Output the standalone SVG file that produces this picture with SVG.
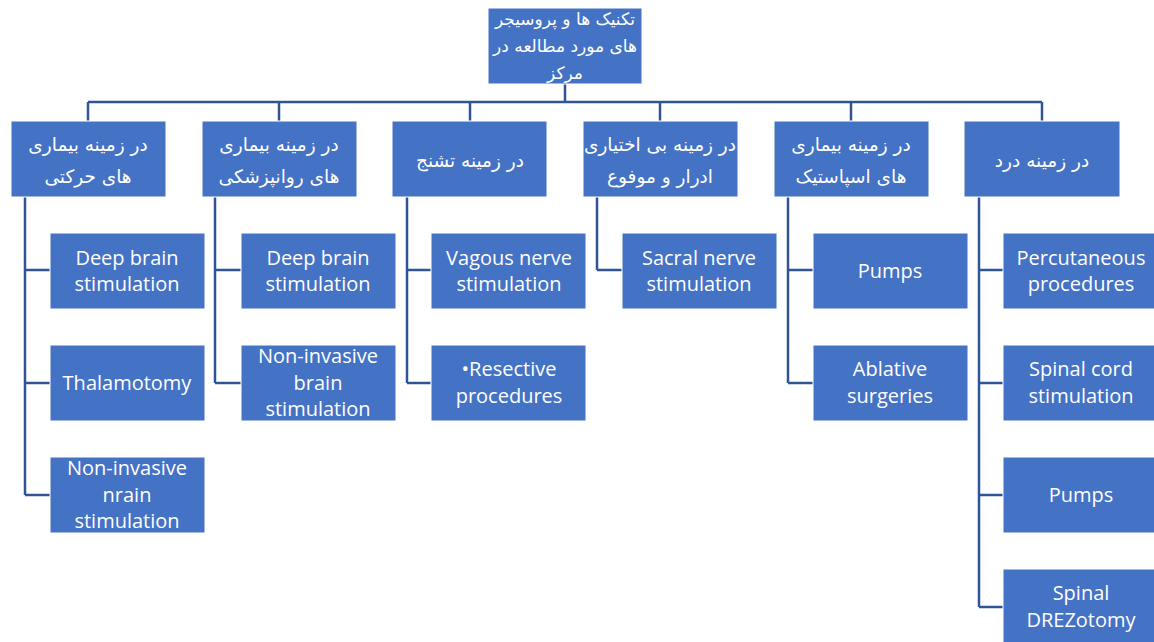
<svg xmlns="http://www.w3.org/2000/svg" width="1154" height="642" viewBox="0 0 1154 642">
<style>
.box{fill:#4472C4;stroke:#ffffff;stroke-width:1}
.en{font-family:"Open Sans",Lato,sans-serif;font-size:20px;fill:#ffffff;text-anchor:middle;dominant-baseline:central}
.fa{font-family:"DejaVu Sans",sans-serif;font-size:18.5px;fill:#ffffff;text-anchor:middle;dominant-baseline:central;direction:rtl}
.top{font-size:17px}
.ln{stroke:#2F5597;stroke-width:2.5;fill:none}
</style>
<rect width="1154" height="642" fill="#ffffff"/>
<g id="connectors">
<path class="ln" d="M565 84V102M88 102H1042M88 102V121M279 102V121M470 102V121M660 102V121M851 102V121M1042 102V121"/>
<path class="ln" d="M25 197V495M25 270H50M25 383H50M25 495H50"/>
<path class="ln" d="M215 197V383M215 270H241M215 383H241"/>
<path class="ln" d="M407 197V383M407 270H431M407 383H431"/>
<path class="ln" d="M597 197V270M597 270H622"/>
<path class="ln" d="M788 197V383M788 270H813M788 383H813"/>
<path class="ln" d="M979 197V607M979 270H1003M979 383H1003M979 495H1003M979 607H1003"/>
</g>
<g id="root"><rect class="box" x="488" y="8" width="154" height="76"/>
<text class="fa top" x="565" y="19">تکنیک ها و پروسیجر</text>
<text class="fa top" x="565" y="46">های مورد مطالعه در</text>
<text class="fa top" x="565" y="73">مرکز</text></g>
<g id="c1"><rect class="box" x="11" y="121" width="155" height="76"/>
<text class="fa" x="88" y="144">در زمینه بیماری</text>
<text class="fa" x="88" y="176">های حرکتی</text></g>
<g id="c2"><rect class="box" x="202" y="121" width="155" height="76"/>
<text class="fa" x="279" y="144">در زمینه بیماری</text>
<text class="fa" x="279" y="176">های روانپزشکی</text></g>
<g id="c3"><rect class="box" x="392" y="121" width="155" height="76"/>
<text class="fa" x="470" y="160">در زمینه تشنج</text></g>
<g id="c4"><rect class="box" x="583" y="121" width="155" height="76"/>
<text class="fa" x="660" y="144">در زمینه بی اختیاری</text>
<text class="fa" x="660" y="176">ادرار و موفوع</text></g>
<g id="c5"><rect class="box" x="774" y="121" width="155" height="76"/>
<text class="fa" x="851" y="144">در زمینه بیماری</text>
<text class="fa" x="851" y="176">های اسپاستیک</text></g>
<g id="c6"><rect class="box" x="964" y="121" width="156" height="76"/>
<text class="fa" x="1042" y="160">در زمینه درد</text></g>
<g id="l1a"><rect class="box" x="50" y="233" width="155" height="76"/>
<text class="en" x="127" y="257">Deep brain</text><text class="en" x="127" y="283">stimulation</text></g>
<g id="l1b"><rect class="box" x="50" y="345" width="155" height="76"/>
<text class="en" x="127" y="382">Thalamotomy</text></g>
<g id="l1c"><rect class="box" x="50" y="457" width="155" height="76"/>
<text class="en" x="127" y="467">Non-invasive</text><text class="en" x="127" y="494">nrain</text><text class="en" x="127" y="520">stimulation</text></g>
<g id="l2a"><rect class="box" x="241" y="233" width="155" height="76"/>
<text class="en" x="318" y="257">Deep brain</text><text class="en" x="318" y="283">stimulation</text></g>
<g id="l2b"><rect class="box" x="241" y="345" width="155" height="76"/>
<text class="en" x="318" y="355">Non-invasive</text><text class="en" x="318" y="382">brain</text><text class="en" x="318" y="408">stimulation</text></g>
<g id="l3a"><rect class="box" x="431" y="233" width="155" height="76"/>
<text class="en" x="509" y="257">Vagous nerve</text><text class="en" x="509" y="283">stimulation</text></g>
<g id="l3b"><rect class="box" x="431" y="345" width="155" height="76"/>
<text class="en" x="509" y="368">•Resective</text><text class="en" x="509" y="395">procedures</text></g>
<g id="l4a"><rect class="box" x="622" y="233" width="155" height="76"/>
<text class="en" x="699" y="257">Sacral nerve</text><text class="en" x="699" y="283">stimulation</text></g>
<g id="l5a"><rect class="box" x="813" y="233" width="155" height="76"/>
<text class="en" x="890" y="270">Pumps</text></g>
<g id="l5b"><rect class="box" x="813" y="345" width="155" height="76"/>
<text class="en" x="890" y="368">Ablative</text><text class="en" x="890" y="395">surgeries</text></g>
<g id="l6a"><rect class="box" x="1003" y="233" width="155" height="76"/>
<text class="en" x="1081" y="257">Percutaneous</text><text class="en" x="1081" y="283">procedures</text></g>
<g id="l6b"><rect class="box" x="1003" y="345" width="155" height="76"/>
<text class="en" x="1081" y="368">Spinal cord</text><text class="en" x="1081" y="395">stimulation</text></g>
<g id="l6c"><rect class="box" x="1003" y="457" width="155" height="76"/>
<text class="en" x="1081" y="494">Pumps</text></g>
<g id="l6d"><rect class="box" x="1003" y="569" width="155" height="76"/>
<text class="en" x="1081" y="592">Spinal</text><text class="en" x="1081" y="619">DREZotomy</text></g>
</svg>
